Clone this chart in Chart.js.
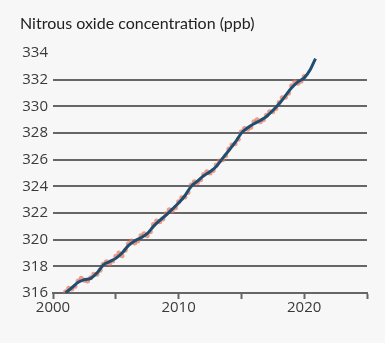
<!doctype html>
<html lang="en">
<head>
  <meta charset="utf-8">
  <title>Nitrous oxide concentration</title>
  <style>
    html, body { margin: 0; padding: 0; background: #f7f7f7; }
    #wrap { width: 385px; height: 343px; }
  </style>
</head>
<body>
  <div id="wrap"><canvas id="n2oChart" width="385" height="343"></canvas></div>
  <script src="https://cdn.jsdelivr.net/npm/chart.js"></script>
  <script>
    // smoothed trend, half-year steps
    const trendYears = [2001.0, 2001.5, 2002.0, 2002.5, 2003.0, 2003.5, 2004.0, 2004.5, 2005.0, 2005.5,
      2006.0, 2006.5, 2007.0, 2007.5, 2008.0, 2008.5, 2009.0, 2009.5, 2010.0, 2010.5,
      2011.0, 2011.5, 2012.0, 2012.5, 2013.0, 2013.5, 2014.0, 2014.5, 2015.0, 2015.5,
      2016.0, 2016.5, 2017.0, 2017.5, 2018.0, 2018.5, 2019.0, 2019.5, 2020.0, 2020.5, 2020.9];
    const trendPpb = [316.0, 316.4, 316.8, 317.0, 317.1, 317.5, 318.1, 318.35, 318.6, 319.0,
      319.55, 319.9, 320.15, 320.45, 321.0, 321.45, 321.85, 322.3, 322.75, 323.3,
      324.0, 324.4, 324.8, 325.1, 325.5, 326.1, 326.7, 327.3, 328.0, 328.4,
      328.7, 328.95, 329.25, 329.7, 330.2, 330.8, 331.4, 331.85, 332.15, 332.8, 333.6];

    // observed values, quarterly
    const obsYears = [2001.0, 2001.25, 2001.5, 2001.75, 2002.0, 2002.25, 2002.5, 2002.75, 2003.0, 2003.25,
      2003.5, 2003.75, 2004.0, 2004.25, 2004.5, 2004.75, 2005.0, 2005.25, 2005.5, 2005.75,
      2006.0, 2006.25, 2006.5, 2006.75, 2007.0, 2007.25, 2007.5, 2007.75, 2008.0, 2008.25,
      2008.5, 2008.75, 2009.0, 2009.25, 2009.5, 2009.75, 2010.0, 2010.25, 2010.5, 2010.75,
      2011.0, 2011.25, 2011.5, 2011.75, 2012.0, 2012.25, 2012.5, 2012.75, 2013.0, 2013.25,
      2013.5, 2013.75, 2014.0, 2014.25, 2014.5, 2014.75, 2015.0, 2015.25, 2015.5, 2015.75,
      2016.0, 2016.25, 2016.5, 2016.75, 2017.0, 2017.25, 2017.5, 2017.75, 2018.0, 2018.25,
      2018.5, 2018.75, 2019.0, 2019.25, 2019.5, 2019.75, 2020.0];
    const obsPpb = [316.1, 316.35, 316.3, 316.5, 316.9, 317.1, 316.95, 316.9, 317.15, 317.4,
      317.4, 317.7, 318.15, 318.35, 318.2, 318.4, 318.75, 319.0, 318.8, 319.2,
      319.7, 319.9, 319.75, 319.9, 320.3, 320.45, 320.3, 320.6, 321.15, 321.4,
      321.35, 321.55, 321.95, 322.25, 322.15, 322.4, 322.85, 323.15, 323.2, 323.55,
      324.1, 324.35, 324.3, 324.5, 324.9, 325.1, 325.0, 325.2, 325.6, 325.9,
      326.0, 326.3, 326.8, 327.1, 327.2, 327.55, 328.1, 328.35, 328.3, 328.45,
      328.85, 329.0, 328.85, 329.0, 329.35, 329.6, 329.6, 329.85, 330.3, 330.65,
      330.7, 331.0, 331.55, 331.85, 331.75, 331.9, 332.25];

    const yearLabels = [2000, 2010, 2020];

    const FONT = '"Open Sans", sans-serif';
    const GRID = '#666666';

    const toPoints = (xs, ys) => xs.map((x, i) => ({ x: x, y: ys[i] }));

    new Chart(document.getElementById('n2oChart'), {
      type: 'line',
      data: {
        datasets: [
          {
            label: 'Trend',
            data: toPoints(trendYears, trendPpb),
            borderColor: '#1f4e70',
            borderWidth: 3,
            pointRadius: 0,
            tension: 0.4,
            cubicInterpolationMode: 'monotone',
            order: 0
          },
          {
            label: 'Observed',
            data: toPoints(obsYears, obsPpb),
            showLine: false,
            pointRadius: 2.5,
            pointBackgroundColor: 'rgba(228, 118, 96, 0.7)',
            pointBorderWidth: 0,
            order: 1
          }
        ]
      },
      options: {
        responsive: false,
        animation: false,
        layout: { padding: { left: 20, right: 18, top: 0, bottom: 26 } },
        plugins: {
          legend: { display: false },
          tooltip: { enabled: false },
          title: {
            display: true,
            text: 'Nitrous oxide concentration (ppb)',
            align: 'start',
            color: '#222',
            font: { family: 'Lato, sans-serif', size: 16, weight: 'normal' },
            padding: { top: 14, bottom: 20 }
          }
        },
        scales: {
          x: {
            type: 'linear',
            min: 2000,
            max: 2025,
            ticks: {
              stepSize: 5,
              color: '#3a3a3a',
              font: { family: FONT, size: 15 },
              padding: 0,
              maxRotation: 0,
              callback: v => yearLabels.includes(v) ? String(v) : ''
            },
            grid: { drawOnChartArea: false, drawTicks: true, tickLength: 6, tickColor: GRID, tickWidth: 2 },
            border: { display: true, color: GRID, width: 2 }
          },
          y: {
            min: 316,
            max: 334,
            afterFit: s => { s.width = 33; },
            ticks: {
              stepSize: 2,
              color: '#3a3a3a',
              font: { family: FONT, size: 15 },
              padding: 5
            },
            grid: {
              drawTicks: false,
              color: GRID,
              lineWidth: c => (c.tick && c.tick.value === 334) ? 0 : 2
            },
            border: { display: false }
          }
        }
      }
    });
  </script>
</body>
</html>
